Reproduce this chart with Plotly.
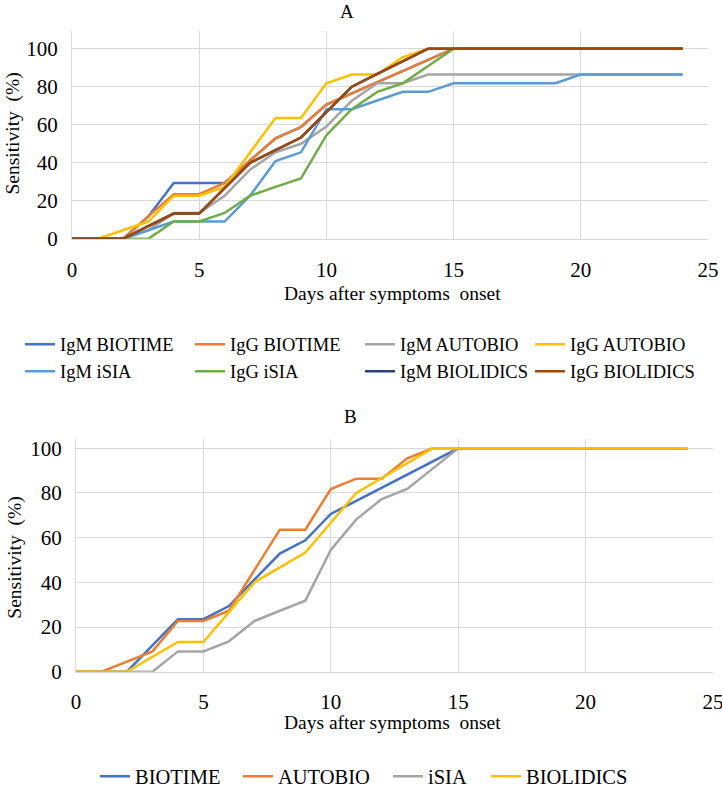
import plotly.graph_objects as go

days = list(range(0, 25))

# Panel A series (sensitivity %)
igm_biotime = [0, 0, 0, 11.8, 29.4, 29.4, 29.4, 41.2, 52.9, 58.8, 70.6, 76.5, 82.4, 88.2, 94.1, 100, 100, 100, 100, 100, 100, 100, 100, 100, 100]
igg_biotime = [0, 0, 0, 11.8, 23.5, 23.5, 29.4, 41.2, 52.9, 58.8, 70.6, 76.5, 82.4, 88.2, 94.1, 100, 100, 100, 100, 100, 100, 100, 100, 100, 100]
igm_autobio = [0, 0, 0, 4.5, 13.6, 13.6, 22.7, 36.4, 45.5, 50.0, 59.1, 72.7, 81.8, 81.8, 86.4, 86.4, 86.4, 86.4, 86.4, 86.4, 86.4, 86.4, 86.4, 86.4, 86.4]
igg_autobio = [0, 0, 4.5, 9.1, 22.7, 22.7, 27.3, 45.5, 63.6, 63.6, 81.8, 86.4, 86.4, 95.5, 100, 100, 100, 100, 100, 100, 100, 100, 100, 100, 100]
igm_isia = [0, 0, 0, 4.5, 9.1, 9.1, 9.1, 22.7, 40.9, 45.5, 68.2, 68.2, 72.7, 77.3, 77.3, 81.8, 81.8, 81.8, 81.8, 81.8, 86.4, 86.4, 86.4, 86.4, 86.4]
igg_isia = [0, 0, 0, 0, 9.1, 9.1, 13.6, 22.7, 27.3, 31.8, 54.5, 68.2, 77.3, 81.8, 90.9, 100, 100, 100, 100, 100, 100, 100, 100, 100, 100]
igm_biolidics = [0, 0, 0, 6.7, 13.3, 13.3, 26.7, 40.0, 46.7, 53.3, 66.7, 80.0, 86.7, 93.3, 100, 100, 100, 100, 100, 100, 100, 100, 100, 100, 100]
igg_biolidics = [0, 0, 0, 6.7, 13.3, 13.3, 26.7, 40.0, 46.7, 53.3, 66.7, 80.0, 86.7, 93.3, 100, 100, 100, 100, 100, 100, 100, 100, 100, 100, 100]

# Panel B series
b_biotime = [0, 0, 0, 11.8, 23.5, 23.5, 29.4, 41.2, 52.9, 58.8, 70.6, 76.5, 82.4, 88.2, 94.1, 100, 100, 100, 100, 100, 100, 100, 100, 100, 100]
b_autobio = [0, 0, 4.5, 9.1, 22.7, 22.7, 27.3, 45.5, 63.6, 63.6, 81.8, 86.4, 86.4, 95.5, 100, 100, 100, 100, 100, 100, 100, 100, 100, 100, 100]
b_isia = [0, 0, 0, 0, 9.1, 9.1, 13.6, 22.7, 27.3, 31.8, 54.5, 68.2, 77.3, 81.8, 90.9, 100, 100, 100, 100, 100, 100, 100, 100, 100, 100]
b_biolidics = [0, 0, 0, 6.7, 13.3, 13.3, 26.7, 40.0, 46.7, 53.3, 66.7, 80.0, 86.7, 93.3, 100, 100, 100, 100, 100, 100, 100, 100, 100, 100, 100]

a_names = ["IgM BIOTIME", "IgG BIOTIME", "IgM AUTOBIO", "IgG AUTOBIO",
           "IgM iSIA", "IgG iSIA", "IgM BIOLIDICS", "IgG BIOLIDICS"]
a_values = [igm_biotime, igg_biotime, igm_autobio, igg_autobio,
            igm_isia, igg_isia, igm_biolidics, igg_biolidics]
a_colors = ["#4472C4", "#ED7D31", "#A5A5A5", "#FFC000",
            "#5B9BD5", "#70AD47", "#264478", "#9E480E"]

b_names = ["BIOTIME", "AUTOBIO", "iSIA", "BIOLIDICS"]
b_values = [b_biotime, b_autobio, b_isia, b_biolidics]
b_colors = ["#4472C4", "#ED7D31", "#A5A5A5", "#FFC000"]

W, H = 722, 797
FONT = "Liberation Serif, Times New Roman, serif"
GRID = "#D9D9D9"

def px(x):
    return x / W

def py(y):
    return 1 - y / H

fig = go.Figure()
for n, v, c in zip(a_names, a_values, a_colors):
    fig.add_trace(go.Scatter(x=days, y=v, name=n, mode="lines",
                             line=dict(color=c, width=2.5),
                             xaxis="x", yaxis="y", legend="legend"))
b_legends = ["legend2", "legend3", "legend4", "legend5"]
for n, v, c, lg in zip(b_names, b_values, b_colors, b_legends):
    fig.add_trace(go.Scatter(x=days, y=v, name=n, mode="lines",
                             line=dict(color=c, width=2.5),
                             xaxis="x2", yaxis="y2", legend=lg))

axis_common = dict(showgrid=True, gridcolor=GRID, gridwidth=1, zeroline=False,
                   showline=True, linecolor=GRID, linewidth=1,
                   tickfont=dict(family=FONT, size=21, color="black"),
                   ticks="", automargin=False, ticklabeloverflow="allow")

b_leg_x = [95, 238, 388, 486]
b_leg_common = dict(orientation="h", xanchor="left", y=py(776), yanchor="top",
                    font=dict(family=FONT, size=20.5, color="black"),
                    bgcolor="rgba(0,0,0,0)")

fig.update_layout(
    width=W, height=H,
    margin=dict(l=0, r=0, t=0, b=0),
    paper_bgcolor="white", plot_bgcolor="white",
    font=dict(family=FONT, color="black"),
    xaxis=dict(domain=[px(72), px(708)], range=[0, 25], dtick=5, anchor="y",
               ticklabelstandoff=12, **axis_common),
    yaxis=dict(domain=[py(245), py(32)], range=[0, 109.2], tickvals=[0, 20, 40, 60, 80, 100],
               anchor="x", ticklabelstandoff=9, **axis_common),
    xaxis2=dict(domain=[px(76), px(713)], range=[0, 25], dtick=5, anchor="y2",
                ticklabelstandoff=11, **axis_common),
    yaxis2=dict(domain=[py(689), py(450)], range=[0, 104.3], tickvals=[0, 20, 40, 60, 80, 100],
                anchor="x2", ticklabelstandoff=9, **axis_common),
    legend=dict(orientation="h", x=px(20), xanchor="left", y=py(334), yanchor="top",
                entrywidth=125, entrywidthmode="pixels",
                font=dict(family=FONT, size=18.5, color="black"),
                bgcolor="rgba(0,0,0,0)", traceorder="normal"),
    legend2=dict(x=px(b_leg_x[0]), **b_leg_common),
    legend3=dict(x=px(b_leg_x[1]), **b_leg_common),
    legend4=dict(x=px(b_leg_x[2]), **b_leg_common),
    legend5=dict(x=px(b_leg_x[3]), **b_leg_common),
    showlegend=True,
)

def ann(text, x, y, size=19.5, angle=0):
    return dict(text=text, x=px(x), y=py(y), xref="paper", yref="paper",
                xanchor="center", yanchor="middle", textangle=angle,
                showarrow=False, font=dict(family=FONT, size=size, color="black"))

fig.update_layout(annotations=[
    ann("A", 347, 12, size=19),
    ann("B", 350, 427, size=19),
    ann("Sensitivity  (%)", 13, 137, angle=-90),
    ann("Sensitivity  (%)", 15, 572, angle=-90),
    ann("Days after symptoms  onset", 392, 301),
    ann("Days after symptoms  onset", 392, 741),
])

fig.write_html("out.html", config={"displayModeBar": False},
               post_script="document.body.style.margin='0px';")
